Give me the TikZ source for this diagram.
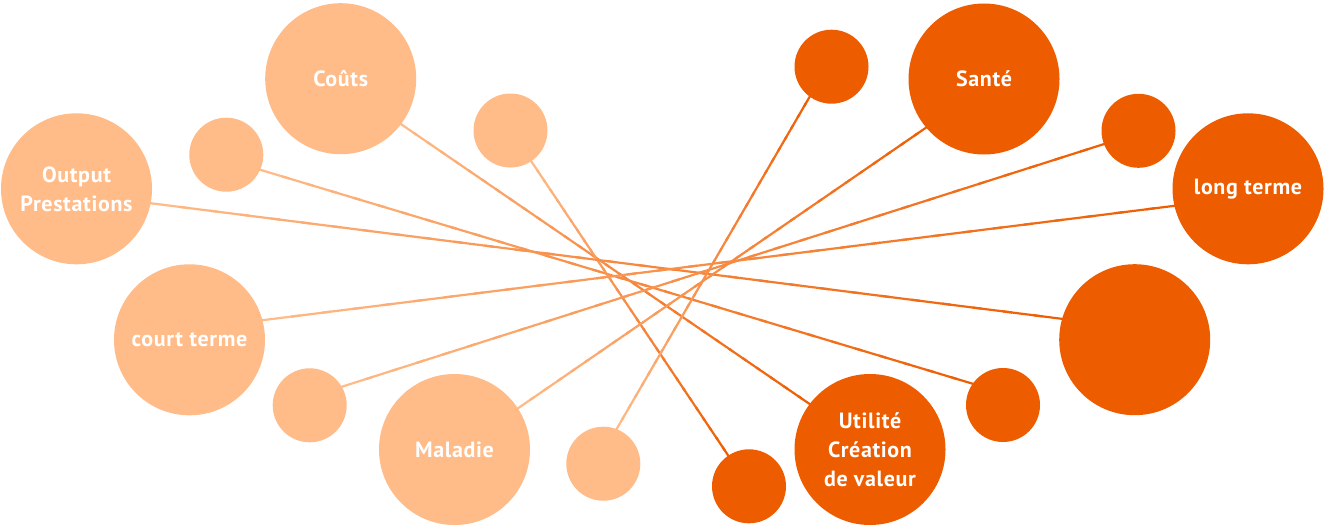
\documentclass[tikz,border=0pt]{standalone}
\usepackage{fontspec}
\setmainfont{PT Sans}
\newfontfamily\labelfont{PT Sans}[LetterSpace=3]
\usepackage{xcolor}
\definecolor{peach}{HTML}{FFBB88}
\definecolor{pumpkin}{HTML}{EE5C00}
\usepackage{tikz}
\usetikzlibrary{calc,backgrounds}
\tikzset{
    x=1pt, y=-1pt,
    bigball/.style ={circle, inner sep=0pt, minimum size=151pt, align=center, text=white,
                     font=\labelfont\fontsize{22}{29}\selectfont\bfseries},
    smallball/.style ={circle, inner sep=0pt, minimum size=74pt},
    pale/.style = {fill=peach},
    warm/.style = {fill=pumpkin},
    link/.style = {line width=2.2pt}
}
\newcommand\gradLink[2]{%
  \coordinate (p) at ($(#1)!-2pt!(#2)$);
  \coordinate (q) at ($(#2)!-2pt!(#1)$);
  \foreach \k in {1,...,30}{
    \pgfmathtruncatemacro\pct{(\k-0.5)*100/30}
    \draw[link, pumpkin!\pct!peach] ($(p)!{(\k-1)/30}!(q)$) -- ($(p)!{min(1,\k/30+0.01)}!(q)$);
  }}

\begin{document}
\begin{tikzpicture}
  \useasboundingbox (0,0) rectangle (1324,527);

  % left, pale side
  \node[bigball, pale] (Couts) at (340.7,78.7) {Coûts};
  \node[bigball, pale] (Output) at (76.5,188.8) {Output\\Prestations};
  \node[bigball, pale] (court) at (189.5,339.8) {court terme};
  \node[bigball, pale] (Maladie) at (454.5,449.5) {Maladie};
  \node[smallball, pale] (sA) at (226.3,154.7) {};
  \node[smallball, pale] (sB) at (510.5,130.5) {};
  \node[smallball, pale] (sC) at (309.7,405.3) {};
  \node[smallball, pale] (sD) at (603.3,463.7) {};

  % right, warm side
  \node[bigball, warm] (Sante) at (984,79) {Santé};
  \node[bigball, warm] (long) at (1248,188.8) {long terme};
  \node[bigball, warm] (blank) at (1134.7,339.7) {};
  \node[bigball, warm] (Utilite) at (870,449.5) {Utilité\\Création\\de valeur};
  \node[smallball, warm] (sE) at (1138.5,130.8) {};
  \node[smallball, warm] (sF) at (1003,405) {};
  \node[smallball, warm] (sG) at (831.5,66.7) {};
  \node[smallball, warm] (sH) at (749,486.3) {};

  % links, pale to warm
  \begin{scope}[on background layer]
    \gradLink{Couts.-37}{Utilite.143}
    \gradLink{sA.-24}{sF.145}
    \gradLink{sB.-56}{sH.124}
    \gradLink{Output.-11}{blank.164}
    \gradLink{court.15}{long.193}
    \gradLink{sC.30}{sE.201}
    \gradLink{Maladie.33}{Sante.220}
    \gradLink{sD.69}{sG.234}
  \end{scope}
\end{tikzpicture}
\end{document}
